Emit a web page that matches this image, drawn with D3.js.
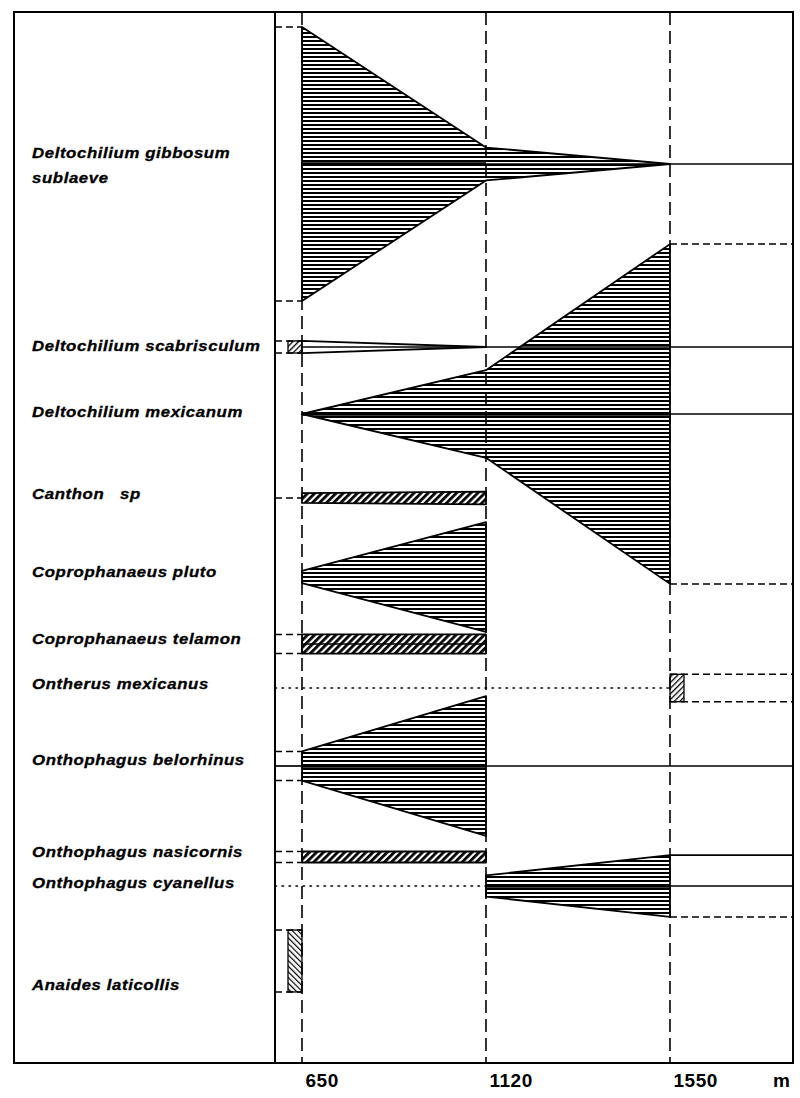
<!DOCTYPE html>
<html>
<head>
<meta charset="utf-8">
<script src="https://cdn.jsdelivr.net/npm/d3@7"></script>
<style>
  body { margin: 0; background: #fff; }
  svg { display: block; }
  .lbl { font-family: "Liberation Sans", Arial, sans-serif; font-weight: bold; font-style: italic; font-size: 14px;
         letter-spacing: 0.5px; white-space: pre; stroke: #000; stroke-width: 0.3px; }
</style>
</head>
<body>
<script>
// sites along the altitude gradient (m)
const altitudes = [650, 1120, 1550];
const tickLabels = ["650", "1120", "1550"];
const LO = 600, HI = 1900; // frame edges: "below lowest site" / "above highest site"

const species = [
  "Deltochilium gibbosum sublaeve", "Deltochilium scabrisculum", "Deltochilium mexicanum",
  "Canthon sp", "Coprophanaeus pluto", "Coprophanaeus telamon", "Ontherus mexicanus",
  "Onthophagus belorhinus", "Onthophagus nasicornis", "Onthophagus cyanellus", "Anaides laticollis"
];
const labelLines = [
  ["Deltochilium gibbosum", "sublaeve"], ["Deltochilium scabrisculum"], ["Deltochilium mexicanum"],
  ["Canthon   sp"], ["Coprophanaeus pluto"], ["Coprophanaeus telamon"], ["Ontherus mexicanus"],
  ["Onthophagus belorhinus"], ["Onthophagus nasicornis"], ["Onthophagus cyanellus"], ["Anaides laticollis"]
];

// relative abundance (kite half-width, gibbosum at 650 m = 100); null = not recorded
const at650  = [100, 4.4, 0,   3.6, 4.4, 7, null, 10.6, 4, null, null];
const at1120 = [12,  0,   32,  4.7, 40,  7, null, 51,   4, 7.7,  null];
const at1550 = [0,   null,124, null,null,null,null,null,null,22.6,null];
const below650  = [100, 4.4, null, 0, null, 7, null, 10.6, 4, null, 22.6];
const above1550 = [null, null, 124, null, null, null, 10, null, null, 22.6, null];

const kiteFill   = ["h", "none", "h", "d", "h", "d", null, "h", "d", "h", null];
const markerAt   = [null, 650, null, null, null, null, 1550, null, null, null, 650];
const markerFill = [null, "fwd", null, null, null, null, "fwd", null, null, null, "back"];
const thickLine  = [[650, 1120], null, [650, 1550], null, null, null, null, [650, 1120], null, [1120, 1550], null];
const thinLines  = [[[1120, HI]], [[650, HI]], [[1550, HI]], [], [[650, 1120]], [[650, 1120]], [],
                    [[LO, 650], [1120, HI]], [], [[1550, HI]], []];
const dottedLines = [[], [], [], [], [], [], [[LO, 1550]], [], [], [[LO, 1120]], []];
const solidStubTop = ["Onthophagus cyanellus"];

const width = 800, height = 1098;
const yTop = 12, yBottom = 1063, frameLeft = 14;
const markerW = 14;

const svg = d3.select("body").append("svg")
  .attr("width", width).attr("height", height);

const x = d3.scaleLinear().domain([LO, 650, 1120, 1550, HI]).range([275, 302, 486, 670, 793]);
const s = d3.scaleLinear().domain([0, 100]).range([0, 137]);
const yRow = d3.scaleOrdinal().domain(species)
  .range([164, 347, 414, 498, 577, 644, 688, 766, 857, 886, 961]);
const yLabel = d3.scaleOrdinal().domain(species)
  .range([153, 346, 412, 494, 572, 639, 684, 760, 852, 883, 985]);

// hatch patterns
const defs = svg.append("defs");
const ph = defs.append("pattern").attr("id", "h").attr("patternUnits", "userSpaceOnUse")
  .attr("width", 8).attr("height", 4);
ph.append("rect").attr("width", 8).attr("height", 2).attr("fill", "#000");
const pd = defs.append("pattern").attr("id", "d").attr("patternUnits", "userSpaceOnUse")
  .attr("width", 5).attr("height", 5).attr("patternTransform", "rotate(45)");
pd.append("rect").attr("width", 2.8).attr("height", 5).attr("fill", "#000");
const pf = defs.append("pattern").attr("id", "fwd").attr("patternUnits", "userSpaceOnUse")
  .attr("width", 4).attr("height", 4).attr("patternTransform", "rotate(45)");
pf.append("rect").attr("width", 1.3).attr("height", 4).attr("fill", "#000");
const pb = defs.append("pattern").attr("id", "back").attr("patternUnits", "userSpaceOnUse")
  .attr("width", 4).attr("height", 4).attr("patternTransform", "rotate(-45)");
pb.append("rect").attr("width", 1.2).attr("height", 4).attr("fill", "#000");

// site grid lines
svg.selectAll(".site").data(altitudes).enter().append("line")
  .attr("x1", d => x(d)).attr("x2", d => x(d))
  .attr("y1", yTop).attr("y2", yBottom)
  .attr("stroke", "#000").attr("stroke-width", 1.6).attr("stroke-dasharray", "13,6");

const hline = (x1, x2, y, w, dash) => svg.append("line")
  .attr("x1", x1).attr("x2", x2).attr("y1", y).attr("y2", y)
  .attr("stroke", "#000").attr("stroke-width", w)
  .attr("stroke-dasharray", dash || null)
  .attr("stroke-linecap", dash === "1.5,5.5" ? "round" : null);

const area = d3.area().x(d => x(d.alt));

species.forEach((sp, i) => {
  const cy = yRow(sp);

  dottedLines[i].forEach(([a, b]) => hline(x(a), x(b), cy, 1.5, "1.5,5.5"));

  // stubs below the lowest and above the highest site
  [[below650[i], LO, 650], [above1550[i], 1550, HI]].forEach(([v, a, b]) => {
    if (v == null) return;
    const hasMarker = markerAt[i] != null && (markerAt[i] === a || markerAt[i] === b);
    if (v === 0) { hline(x(a), x(b), cy, 1.5, "7,4"); return; }
    [-1, 1].forEach(sign => {
      const solid = sign < 0 && solidStubTop.includes(sp);
      hline(x(a), x(b), cy + sign * s(v), solid ? 1.8 : 1.5, solid ? null : "7,4");
    });
    if (hasMarker) {
      const mx = markerAt[i] === b ? x(b) - markerW : x(a);
      svg.append("rect").attr("x", mx).attr("y", cy - s(v))
        .attr("width", markerW).attr("height", 2 * s(v))
        .attr("fill", `url(#${markerFill[i]})`)
        .attr("stroke", "#000").attr("stroke-width", 1.3);
    }
  });

  // kite
  const pts = altitudes.map((a, j) => ({ alt: a, v: [at650, at1120, at1550][j][i] }))
    .filter(d => d.v != null);
  if (pts.length > 1 && kiteFill[i] != null) {
    svg.append("path").datum(pts)
      .attr("d", area.y0(d => cy + s(d.v)).y1(d => cy - s(d.v)))
      .attr("fill", kiteFill[i] === "none" ? "#fff" : `url(#${kiteFill[i]})`)
      .attr("stroke", "#000").attr("stroke-width", 1.8).attr("stroke-linejoin", "round");
  }

  thinLines[i].forEach(([a, b]) => hline(x(a), x(b), cy, 1.7));
  if (thickLine[i]) hline(x(thickLine[i][0]), x(thickLine[i][1]), cy, 3.5);

  labelLines[i].forEach((t, k) => {
    svg.append("text").attr("class", "lbl")
      .attr("xml:space", "preserve")
      .attr("transform", `translate(32,${yLabel(sp) + 5 + k * 25}) scale(1.2,1)`)
      .text(t);
  });
});

// frame and label panel divider
svg.append("rect").attr("x", frameLeft).attr("y", yTop)
  .attr("width", x(HI) - frameLeft).attr("height", yBottom - yTop)
  .attr("fill", "none").attr("stroke", "#000").attr("stroke-width", 2);
svg.append("line").attr("x1", x(LO)).attr("x2", x(LO)).attr("y1", yTop).attr("y2", yBottom)
  .attr("stroke", "#000").attr("stroke-width", 2);

// altitude axis
const axis = d3.axisBottom(x).tickValues(altitudes).tickSize(0)
  .tickFormat((d, i) => tickLabels[i]);
const gAx = svg.append("g").attr("transform", `translate(0,${yBottom})`).call(axis);
gAx.select(".domain").remove();
gAx.attr("font-family", "'Liberation Sans', Arial, sans-serif").attr("font-size", 19).attr("font-weight", "bold");
gAx.selectAll("text").attr("text-anchor", "start").attr("y", 24).attr("dy", null).attr("dx", 3)
  .attr("letter-spacing", 0.5);
svg.append("text").attr("x", 773).attr("y", yBottom + 24)
  .attr("font-family", "'Liberation Sans', Arial, sans-serif").attr("font-size", 19).attr("font-weight", "bold")
  .text("m");
</script>
</body>
</html>
